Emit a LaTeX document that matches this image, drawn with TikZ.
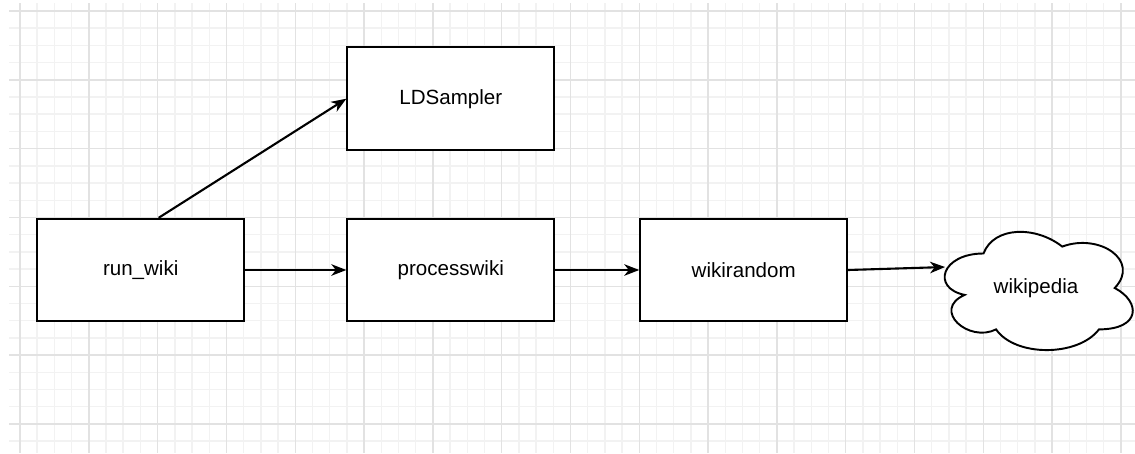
\documentclass[tikz,border=0pt]{standalone}
\usepackage{fontspec}
\setmainfont{Liberation Sans}
\usetikzlibrary{arrows.meta,positioning,calc}
\definecolor{gridminor}{RGB}{242,242,242}
\definecolor{gridmajor}{RGB}{226,226,226}

\begin{document}
\begin{tikzpicture}[x=0.02cm,y=-0.02cm,
  box/.style={draw,line width=1.1pt,fill=white,minimum width=4.14cm,minimum height=2.05cm,font=\fontsize{11.7}{14}\selectfont},
  link/.style={-{Stealth[length=0.3cm,width=0.23cm,inset=0.09cm]},line width=1.2pt},
  gridline/.style={line width=0.8pt}]
  \useasboundingbox (0,0) rectangle (1135,453);
  \foreach \i in {0,...,64} \draw[gridline,gridminor] (20+17.2*\i,3) -- (20+17.2*\i,453);
  \foreach \j in {0,...,25} \draw[gridline,gridminor] (9,11+17.2*\j) -- (1135,11+17.2*\j);
  \foreach \i in {0,...,16} \draw[gridline,gridmajor] (20+68.8*\i,3) -- (20+68.8*\i,453);
  \foreach \j in {0,...,6} \draw[gridline,gridmajor] (9,11+68.8*\j) -- (1135,11+68.8*\j);

  \node[box] (runwiki) at (140.7,270) {run\_wiki};
  \node[box] (ldsampler) at (450.8,98.7) {LDSampler};
  \node[box] (processwiki) at (450.8,270) {processwiki};
  \node[box] (wikirandom) at (743.7,270) {wikirandom};

  \coordinate (cloudnw) at (931,219);
  \begin{scope}[shift={(cloudnw)},x=4.2cm,y=-2.76cm]
    \draw[line width=1.1pt,fill=white] (0.25,0.25) .. controls (0.05,0.25) and (0,0.5) .. (0.16,0.55)
      .. controls (0,0.66) and (0.18,0.9) .. (0.31,0.8)
      .. controls (0.4,1) and (0.7,1) .. (0.8,0.8)
      .. controls (1,0.8) and (1,0.6) .. (0.875,0.5)
      .. controls (1,0.3) and (0.8,0.1) .. (0.625,0.2)
      .. controls (0.5,0.05) and (0.3,0.05) .. (0.25,0.25) -- cycle;
    \coordinate (cloudin) at (0.067,0.348);
    \node[font=\fontsize{11.7}{14}\selectfont] (wikipedia) at (0.5,0.5) {wikipedia};
  \end{scope}

  \draw[link] (runwiki.71) -- (ldsampler.west);
  \draw[link] (runwiki) -- (processwiki);
  \draw[link] (processwiki) -- (wikirandom);
  \draw[link] (wikirandom.east) -- (cloudin);
\end{tikzpicture}
\end{document}
